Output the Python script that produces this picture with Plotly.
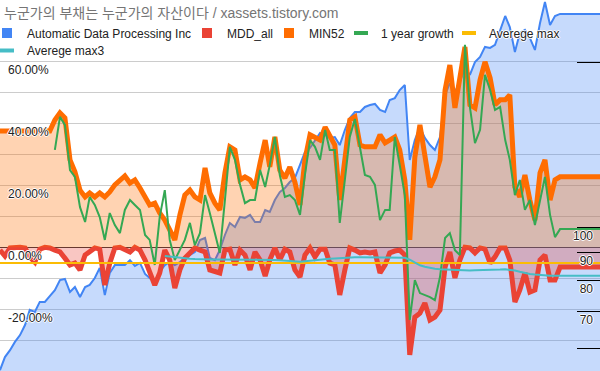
import plotly.graph_objects as go
import pandas as pd

# ---- data ----
dates = pd.date_range("2012-09-01", periods=121, freq="MS")

adp_price = [
    54.8, 57.9, 59.6, 61.7, 63.5, 66.3, 70.6, 70.0, 73.0, 73.0,
    74.8, 76.7, 80.0, 80.4, 76.1, 77.7, 74.5, 77.7, 78.4, 80.7,
    84.2, 75.1, 82.4, 85.2, 85.2, 85.2, 87.0, 84.9, 86.0, 82.1,
    80.7, 79.4, 82.8, 85.2, 86.3, 85.2, 86.3, 87.8, 88.9, 90.0,
    94.7, 95.5, 87.8, 87.0, 90.8, 96.7, 101.7, 100.0, 104.3, 103.9,
    105.2, 102.1, 102.1, 107.4, 106.5, 112.0, 115.8, 117.8, 120.8, 122.9,
    129.8, 137.0, 139.4, 144.1, 148.4, 147.2, 145.4, 145.9, 141.1, 150.3,
    158.1, 162.1, 162.1, 165.6, 167.0, 167.7, 163.5, 162.1, 170.5, 171.9,
    177.8, 181.6, 132.5, 144.1, 152.2, 145.4, 141.1, 138.2, 145.9, 174.1,
    183.2, 176.3, 184.0, 195.1, 189.4, 200.0, 204.3, 213.1, 212.2, 214.9,
    228.9, 242.7, 231.7, 208.6, 225.9, 228.9, 221.3, 210.4, 235.6, 257.4,
    233.7, 242.7, 244.8, 244.8, 244.8, 244.8, 244.8, 244.8, 244.8, 244.8,
    244.8,
]

mdd_all = [
    -0.9, -2.8, -0.2, 0.0, 0.0, -0.2, -3.1, -4.8, -0.6, 0.0,
    -0.2, -0.9, -1.5, -3.5, -5.7, -5.1, -7.3, -2.5, -1.2, -0.2,
    -0.6, -12.2, -5.1, -0.2, 0.0, -0.6, -1.5, 0.0, -0.9, -4.1,
    -8.0, -12.2, -8.3, -0.9, -4.1, -13.2, -7.3, -3.5, -1.8, -0.2,
    -0.9, -1.5, -7.3, -8.0, -8.3, -0.9, -0.6, -5.7, -0.9, -2.5,
    -7.3, -1.5, -4.1, -9.3, -4.1, -0.2, -4.1, -0.6, -1.5, -7.3,
    -9.6, -2.5, -0.2, -3.1, -0.6, -0.6, -5.1, -5.7, -15.4, -7.3,
    -0.2, -0.9, -1.8, -1.5, -1.8, -1.5, -8.3, -5.7, -1.8, -1.2,
    -0.9, -2.5, -34.8, -22.6, -21.3, -18.0, -23.5, -22.6, -20.3, -6.4,
    -1.5, -9.9, -4.1, 0.0, -0.2, -1.8, -0.2, -0.6, -5.1, -3.1,
    -0.2, -0.2, -4.1, -17.7, -13.8, -8.3, -14.5, -13.8, -4.1, -2.5,
    -10.6, -10.6, -6.4, -6.4, -6.4, -6.4, -6.4, -6.4, -6.4, -6.4,
    -6.4,
]

min52 = [
    37.6, 37.6, 37.6, 37.6, 37.6, 37.6, 37.6, 37.6, 37.6, 37.6,
    37.6, 41.2, 43.5, 41.9, 28.3, 24.4, 18.5, 16.3, 17.6, 16.3,
    17.6, 16.3, 17.9, 20.2, 21.8, 23.1, 20.8, 21.8, 19.2, 16.3,
    13.7, 14.3, 11.1, 8.8, 5.6, 2.4, 10.5, 16.9, 18.5, 16.3,
    15.3, 25.7, 17.6, 14.3, 12.1, 24.1, 32.5, 31.5, 21.8, 22.8,
    21.8, 19.2, 27.3, 34.7, 26.0, 35.7, 25.0, 22.4, 26.0, 21.1,
    13.7, 28.3, 36.4, 35.7, 34.7, 38.9, 35.7, 33.1, 15.3, 29.9,
    41.2, 42.2, 33.1, 32.5, 32.5, 32.5, 36.4, 33.8, 34.7, 35.7,
    31.5, 21.8, 2.4, 29.2, 39.6, 28.3, 19.5, 22.8, 28.3, 50.9,
    59.0, 45.1, 54.8, 64.8, 46.1, 45.1, 54.2, 60.0, 54.8, 46.1,
    47.7, 47.7, 49.3, 19.5, 16.3, 23.4, 15.3, 8.8, 24.1, 28.3,
    15.3, 21.8, 22.8, 22.8, 22.8, 22.8, 22.8, 22.8, 22.8, 22.8,
    22.8,
]

growth_1y = [
    None, None, None, None, None, None, None, None, None, None,
    None, 31.5, 42.2, 39.6, 25.0, 22.8, 13.0, 8.2, 16.3, 13.7,
    9.8, 2.4, 11.1, 7.2, 4.6, 12.1, 15.3, 13.7, 12.1, 4.0,
    2.4, -5.7, 9.8, 18.5, 2.4, -4.1, -0.9, 2.4, 7.9, 0.7,
    4.6, 16.9, 11.1, 4.0, -1.8, 15.3, 32.5, 28.3, 20.2, 14.3,
    15.3, 15.3, 25.0, 19.5, 26.6, 35.7, 23.4, 16.3, 16.9, 15.3,
    10.5, 23.4, 34.7, 32.5, 28.3, 38.0, 31.5, 31.5, 7.9, 21.8,
    35.7, 41.5, 32.5, 23.4, 22.8, 20.2, 8.8, 12.1, 12.1, 35.7,
    26.6, 16.9, -23.5, -10.6, -14.8, -15.4, -16.1, -17.1, -9.6, 3.0,
    4.6, -0.9, -2.5, 65.5, 45.4, 33.7, 38.0, 55.8, 50.9, 44.4,
    45.4, 34.7, 28.3, 16.9, 21.8, 12.1, 15.3, 7.2, 15.3, 22.8,
    10.5, 3.3, 5.9, 5.9, 5.9, 5.9, 5.9, 5.9, 5.9, 5.9,
    5.9,
]

avg_max = [-5.1] * 121

avg_max3 = [
    None, None, None, None, None, None, None, None, None, None,
    None, None, None, None, None, None, None, None, None, None,
    None, None, None, None, None, None, None, None, None, None,
    None, None, None, -2.8, -3.0, -3.3, -3.5, -3.6, -3.7, -3.8,
    -3.9, -3.9, -3.9, -3.9, -3.9, -3.9, -3.9, -3.9, -3.9, -3.9,
    -3.9, -3.9, -3.9, -3.9, -4.0, -4.1, -4.2, -4.3, -4.5, -4.6,
    -4.7, -4.5, -4.3, -4.1, -3.9, -3.8, -3.7, -3.6, -3.5, -3.2,
    -3.2, -3.2, -3.2, -3.2, -3.2, -3.2, -3.2, -3.2, -3.2, -3.2,
    -3.2, -3.4, -4.0, -5.0, -5.8, -6.3, -6.7, -6.9, -7.1, -7.2,
    -7.3, -7.4, -7.5, -7.6, -7.5, -7.4, -7.4, -7.3, -7.3, -7.2,
    -7.2, -7.1, -7.2, -7.5, -7.9, -8.3, -8.6, -8.8, -9.0, -9.1,
    -9.2, -9.2, -9.2, -9.2, -9.2, -9.2, -9.2, -9.2, -9.2, -9.2,
    -9.2,
]

pct_ticks = [-30, -20, -10, 0, 10, 20, 30, 40, 50, 60, 80]
pct_labels = ["", "-20.00%", "", "0.00%", "", "20.00%", "", "40.00%", "", "60.00%", ""]
price_ticks = [60, 70, 80, 90, 100, 200]
price_labels = ["", "70", "80", "90", "100", ""]

series_names = ["Automatic Data Processing Inc", "MDD_all", "MIN52",
                "1 year growth", "Averege max", "Averege max3"]
colors = ["#4285f4", "#ea4335", "#ff6d01", "#34a853", "#fbbc04", "#46bdc6"]

# ---- figure ----
FONT = "Liberation Sans, Arial, sans-serif"
HALO = "1px 0px 0px #fff, -1px 0px 0px #fff, 0px 1px 0px #fff, 0px -1px 0px #fff"
W, H = 600, 371
LOG_RANGE = [1.73723, 2.41423]

fig = go.Figure()

fig.add_trace(go.Scatter(x=dates, y=adp_price, yaxis="y", mode="lines",
                         line=dict(color=colors[0], width=2),
                         fill="tozeroy", fillcolor="rgba(66,133,244,0.3)",
                         showlegend=False, hoverinfo="skip"))
# empty trace that carries the right-hand label axis
fig.add_trace(go.Scatter(x=[None], y=[None], yaxis="y3", mode="lines",
                         showlegend=False, hoverinfo="skip"))
fig.add_trace(go.Scatter(x=dates, y=mdd_all, yaxis="y2", mode="lines",
                         line=dict(color=colors[1], width=5),
                         fill="tozeroy", fillcolor="rgba(234,67,53,0.3)",
                         showlegend=False, hoverinfo="skip"))
fig.add_trace(go.Scatter(x=dates, y=min52, yaxis="y2", mode="lines",
                         line=dict(color=colors[2], width=5),
                         fill="tozeroy", fillcolor="rgba(255,109,1,0.3)",
                         showlegend=False, hoverinfo="skip"))
fig.add_trace(go.Scatter(x=dates, y=growth_1y, yaxis="y2", mode="lines",
                         line=dict(color=colors[3], width=2),
                         showlegend=False, hoverinfo="skip"))
fig.add_trace(go.Scatter(x=dates, y=avg_max, yaxis="y2", mode="lines",
                         line=dict(color=colors[4], width=2),
                         showlegend=False, hoverinfo="skip"))
fig.add_trace(go.Scatter(x=dates, y=avg_max3, yaxis="y2", mode="lines",
                         line=dict(color=colors[5], width=2),
                         showlegend=False, hoverinfo="skip"))

# legend entries (Google-chart style small squares / short lines)
legend_ids = ["legend", "legend2", "legend3", "legend4", "legend5", "legend6"]
symbols = ["square", "square", "square", "line-ew", "line-ew", "line-ew"]
for name, col, sym, lg in zip(series_names, colors, symbols, legend_ids):
    if sym == "square":
        mk = dict(symbol="square", size=10, color=col, line=dict(width=0))
    else:
        mk = dict(symbol="line-ew", size=10, color=col, line=dict(width=4, color=col))
    fig.add_trace(go.Scatter(x=[None], y=[None], yaxis="y2", mode="markers",
                             marker=mk, name=name, legend=lg, showlegend=True))

text_x = [29, 229, 311, 383, 491, 29]
text_y = [33, 33, 33, 33, 33, 50.5]
legend_layouts = {}
for lg, tx, ty in zip(legend_ids, text_x, text_y):
    legend_layouts[lg] = dict(
        x=(tx - 42) / W, y=1 - ty / H, xanchor="left", yanchor="middle",
        orientation="h", bgcolor="rgba(0,0,0,0)", borderwidth=0,
        font=dict(family=FONT, size=12, color="#222222", shadow=HALO),
    )

fig.update_layout(
    width=W, height=H,
    margin=dict(l=0, r=0, t=0, b=0, autoexpand=False),
    paper_bgcolor="white", plot_bgcolor="white",
    title=dict(text="누군가의 부채는 누군가의 자산이다 / xassets.tistory.com",
               x=4 / W, xref="container", xanchor="left",
               y=1 - 13 / H, yref="container", yanchor="middle",
               font=dict(family="Liberation Sans, Noto Sans CJK KR", size=14, color="#757575")),
    xaxis=dict(visible=False, range=[dates[0], dates[-1]]),
    # right log axis: tick marks only
    yaxis=dict(type="log", side="right", range=LOG_RANGE,
               tickvals=price_ticks, ticks="inside", ticklen=23, tickwidth=1,
               tickcolor="#000000", showticklabels=False,
               showgrid=False, zeroline=False, showline=False),
    # left percent axis
    yaxis2=dict(overlaying="y", side="left", range=[-40, 80],
                tickvals=pct_ticks, ticktext=pct_labels,
                ticklabelposition="inside bottom", ticks="", ticklabelstandoff=5,
                showgrid=True, gridcolor="#cccccc", gridwidth=1,
                zeroline=True, zerolinecolor="#333333", zerolinewidth=1,
                showline=False,
                tickfont=dict(family=FONT, size=12, color="#222222", shadow=HALO)),
    # right log axis labels, drawn just inside the right edge
    yaxis3=dict(overlaying="y", anchor="free", position=593 / W, side="left",
                type="log", range=LOG_RANGE,
                tickvals=price_ticks, ticktext=price_labels,
                ticklabelposition="outside bottom", ticks="",
                showgrid=False, zeroline=False, showline=False,
                tickfont=dict(family=FONT, size=12, color="#222222", shadow=HALO)),
    **legend_layouts,
)

fig.write_html("out.html", config={"displayModeBar": False},
               post_script="document.body.style.margin='0px';")
